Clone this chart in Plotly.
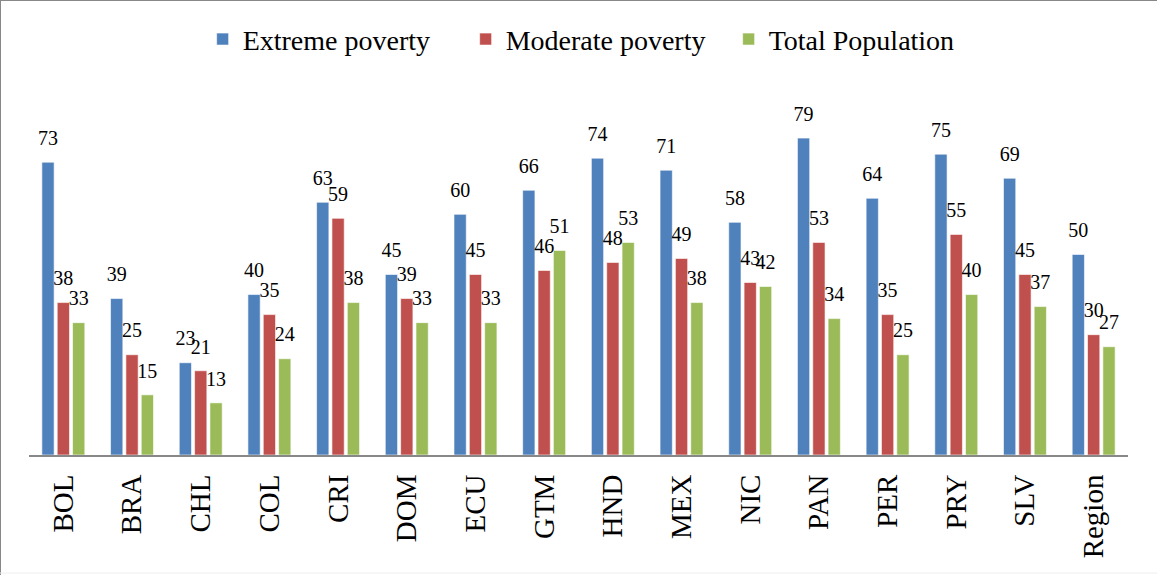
import plotly.graph_objects as go

categories = ["BOL", "BRA", "CHL", "COL", "CRI", "DOM", "ECU", "GTM", "HND", "MEX", "NIC", "PAN", "PER", "PRY", "SLV", "Region"]
extreme = [73, 39, 23, 40, 63, 45, 60, 66, 74, 71, 58, 79, 64, 75, 69, 50]
moderate = [38, 25, 21, 35, 59, 39, 45, 46, 48, 49, 43, 53, 35, 55, 45, 30]
total = [33, 15, 13, 24, 38, 33, 33, 51, 53, 38, 42, 34, 25, 40, 37, 27]

series = [
    ("Extreme poverty", extreme, "#4F81BD"),
    ("Moderate poverty", moderate, "#C0504D"),
    ("Total Population", total, "#9BBB59"),
]

FONT = "Liberation Serif"

fig = go.Figure()
for i, (name, vals, color) in enumerate(series):
    fig.add_trace(go.Bar(
        x=categories, y=vals, name=name,
        marker=dict(color=color, line=dict(color="rgba(255,255,255,0.6)", width=1)),
        offsetgroup=str(i),
        cliponaxis=False,
    ))
for i, (name, vals, color) in enumerate(series):
    fig.add_trace(go.Scatter(
        x=categories, y=vals, mode="markers+text",
        text=[str(v) for v in vals], textposition="top center",
        textfont=dict(family=FONT, size=20, color="#000"),
        marker=dict(size=18, opacity=0),
        offsetgroup=str(i), showlegend=False, hoverinfo="skip",
        cliponaxis=False,
    ))

fig.update_layout(
    width=1157, height=575,
    margin=dict(l=29, r=29, t=100, b=120),
    paper_bgcolor="white", plot_bgcolor="white",
    barmode="group", bargap=0.33, bargroupgap=0.2,
    scattermode="group", scattergap=0.33,
    legend=dict(orientation="h", x=0.158, xanchor="left", y=0.975, yanchor="top",
                yref="container", font=dict(family=FONT, size=28, color="#000"),
                entrywidth=218, entrywidthmode="pixels", traceorder="normal"),
    font=dict(family=FONT, color="#000"),
    xaxis=dict(showline=True, linecolor="#888", linewidth=2, tickangle=-90,
               tickfont=dict(family=FONT, size=29, color="#000"), ticks="",
               ticklabelstandoff=6, showgrid=False),
    yaxis=dict(range=[0, 88.5], visible=False, showgrid=False, zeroline=False),
)
fig.add_shape(type="line", xref="x domain", yref="y domain", x0=-29/1099, x1=1+29/1099, y0=1+100/355, y1=1+100/355,
              line=dict(color="#888", width=2))
fig.add_shape(type="line", xref="x domain", yref="y domain", x0=-29/1099, x1=-29/1099, y0=-120/355, y1=1+100/355,
              line=dict(color="#888", width=2))
fig.add_shape(type="line", xref="x domain", yref="y domain", x0=-29/1099, x1=1+29/1099, y0=-118/355, y1=-118/355,
              line=dict(color="#eee", width=1))

fig.write_html("out.html")
